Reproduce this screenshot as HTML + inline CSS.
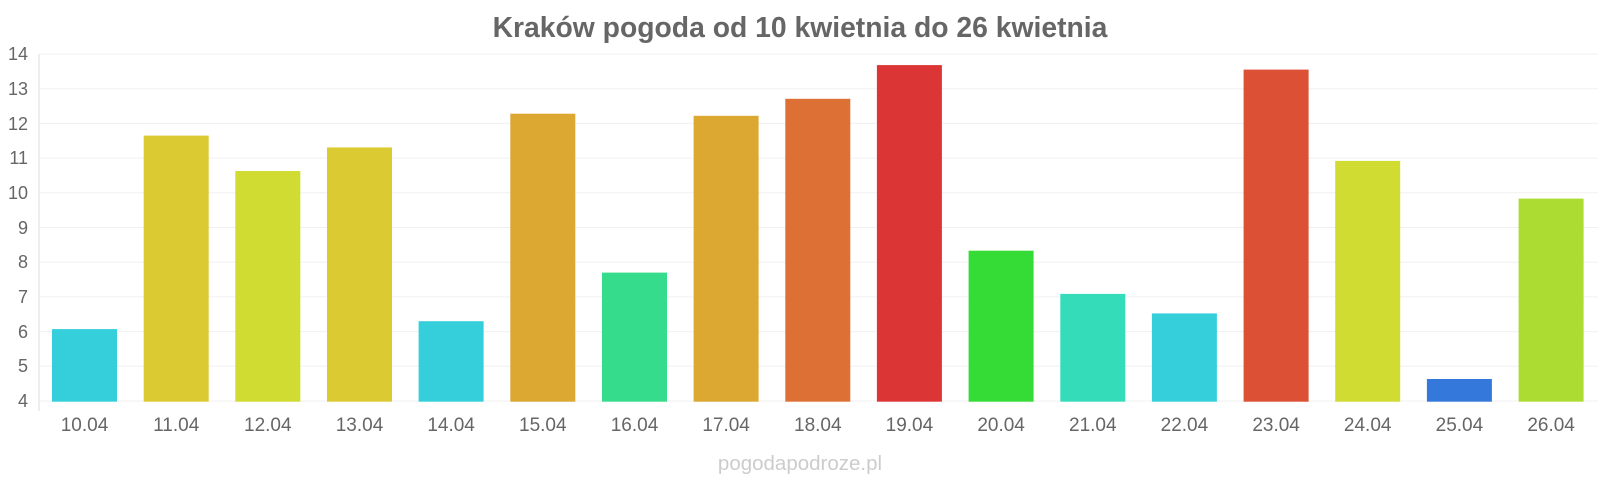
<!DOCTYPE html><html><head><meta charset="utf-8"><style>body{margin:0;background:#fff}svg{display:block;font-family:"Liberation Sans",sans-serif}</style></head><body>
<svg width="1600" height="480" xmlns="http://www.w3.org/2000/svg">
<text x="800" y="37" text-anchor="middle" font-size="28.3" font-weight="bold" fill="#666">Kraków pogoda od 10 kwietnia do 26 kwietnia</text>
<g stroke="#f0f0f0" stroke-width="1">
<line x1="39" x2="1598" y1="54" y2="54"/><line x1="39" x2="1598" y1="88.7" y2="88.7"/><line x1="39" x2="1598" y1="123.4" y2="123.4"/><line x1="39" x2="1598" y1="158.1" y2="158.1"/><line x1="39" x2="1598" y1="192.8" y2="192.8"/><line x1="39" x2="1598" y1="227.5" y2="227.5"/><line x1="39" x2="1598" y1="262.2" y2="262.2"/><line x1="39" x2="1598" y1="296.9" y2="296.9"/><line x1="39" x2="1598" y1="331.6" y2="331.6"/><line x1="39" x2="1598" y1="366.3" y2="366.3"/><line x1="39" x2="1598" y1="401" y2="401"/>
</g>
<line x1="39" x2="39" y1="54" y2="411" stroke="#ddd"/>
<g font-size="18" fill="#666" text-anchor="end">
<text x="28" y="60">14</text><text x="28" y="95">13</text><text x="28" y="130">12</text><text x="28" y="164">11</text><text x="28" y="199">10</text><text x="28" y="234">9</text><text x="28" y="268">8</text><text x="28" y="303">7</text><text x="28" y="338">6</text><text x="28" y="372">5</text><text x="28" y="407">4</text>
</g>
<g>
<rect x="52" y="329.1" width="65" height="72.6" fill="#35cfdc"/>
<rect x="143.7" y="135.6" width="65" height="266.1" fill="#dcca32"/>
<rect x="235.3" y="171" width="65" height="230.7" fill="#d0dc32"/>
<rect x="327" y="147.4" width="65" height="254.3" fill="#dcca32"/>
<rect x="418.6" y="321.2" width="65" height="80.5" fill="#35cfdc"/>
<rect x="510.3" y="113.7" width="65" height="288" fill="#dca832"/>
<rect x="602" y="272.6" width="65" height="129.1" fill="#35dc8c"/>
<rect x="693.6" y="115.8" width="65" height="285.9" fill="#dca832"/>
<rect x="785.3" y="98.8" width="65" height="302.9" fill="#dc7035"/>
<rect x="876.9" y="65.1" width="65" height="336.6" fill="#dc3535"/>
<rect x="968.6" y="250.7" width="65" height="151" fill="#35dc35"/>
<rect x="1060.3" y="293.9" width="65" height="107.8" fill="#35dcba"/>
<rect x="1151.9" y="313.4" width="65" height="88.3" fill="#35cfdc"/>
<rect x="1243.6" y="69.6" width="65" height="332.1" fill="#dc5035"/>
<rect x="1335.2" y="160.9" width="65" height="240.8" fill="#d0dc32"/>
<rect x="1426.9" y="379" width="65" height="22.7" fill="#3578dc"/>
<rect x="1518.6" y="198.6" width="65" height="203.1" fill="#acdc32"/>
</g>
<g font-size="19" fill="#666" text-anchor="middle">
<text x="84.5" y="431">10.04</text><text x="176.2" y="431">11.04</text><text x="267.8" y="431">12.04</text><text x="359.5" y="431">13.04</text><text x="451.1" y="431">14.04</text><text x="542.8" y="431">15.04</text><text x="634.5" y="431">16.04</text><text x="726.1" y="431">17.04</text><text x="817.8" y="431">18.04</text><text x="909.4" y="431">19.04</text><text x="1001.1" y="431">20.04</text><text x="1092.8" y="431">21.04</text><text x="1184.4" y="431">22.04</text><text x="1276.1" y="431">23.04</text><text x="1367.7" y="431">24.04</text><text x="1459.4" y="431">25.04</text><text x="1551.1" y="431">26.04</text>
</g>
<text x="800" y="470" text-anchor="middle" font-size="20.5" fill="#ccc">pogodapodroze.pl</text>
</svg></body></html>
